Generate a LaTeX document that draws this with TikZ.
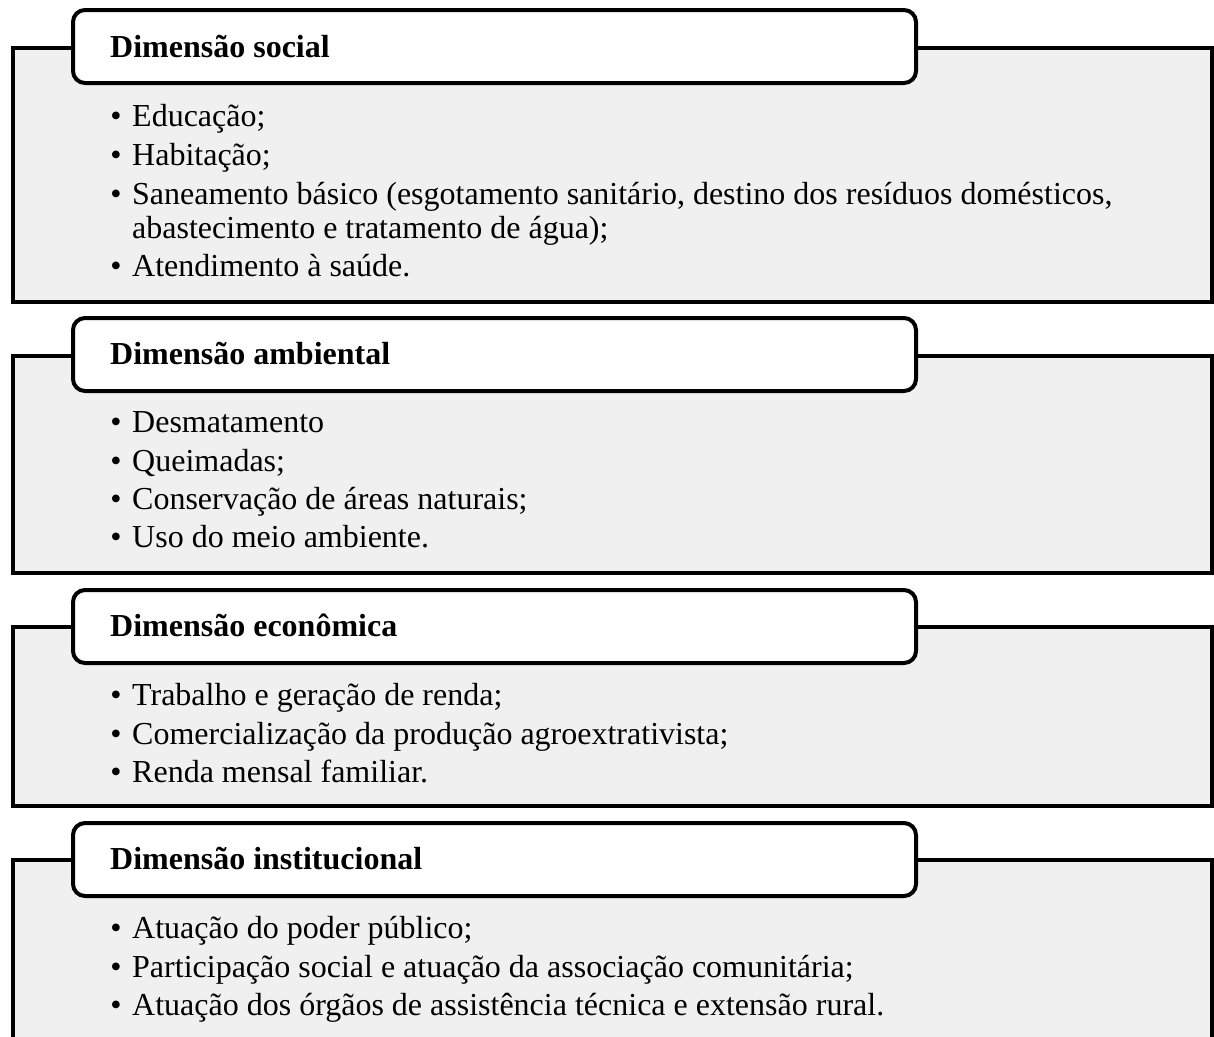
\documentclass[tikz,border=0pt]{standalone}
\usepackage{fontspec}
\setmainfont{Liberation Serif}
\definecolor{panelgray}{RGB}{240,240,240}
\begin{document}
\begin{tikzpicture}[x=1pt,y=-1pt,
  panel/.style={draw=black, line width=4pt, fill=panelgray, minimum width=1199pt, inner sep=0pt},
  header/.style={draw=black, line width=4pt, fill=white, rounded corners=12pt, minimum width=843pt, minimum height=73pt, inner sep=0pt},
  hdtext/.style={anchor=base west, inner sep=0pt, font=\fontsize{32}{38}\selectfont\bfseries},
  item/.style={anchor=base west, inner sep=0pt, font=\fontsize{32}{38}\selectfont},
  dot/.style={anchor=base, inner sep=0pt, font=\fontsize{32}{38}\selectfont}]
\clip (0,0) rectangle (1214,1036);
\fill[white] (0,0) rectangle (1214,1036);
% panels
\node[panel, minimum height=254pt] (p1) at (612.5,175) {};
\node[panel, minimum height=217pt] (p2) at (612.5,464.5) {};
\node[panel, minimum height=179pt] (p3) at (612.5,716.5) {};
\node[panel, minimum height=200pt] (p4) at (612.5,960) {};
% headers
\node[header] (h1) at (494.5,46.5) {};
\node[header] (h2) at (494.5,354.5) {};
\node[header] (h3) at (494.5,626.5) {};
\node[header] (h4) at (494.5,859.5) {};
\node[hdtext] (h1t) at (110,57) {Dimensão social};
\node[hdtext] (h2t) at (110,364) {Dimensão ambiental};
\node[hdtext] (h3t) at (110,636) {Dimensão econômica};
\node[hdtext] (h4t) at (110,869) {Dimensão institucional};
% box 1 items
\foreach \y/\n in {126/a,165/b,204/c,276/e} \node[dot] (d1\n) at (116,\y) {•};
\node[item] (t1a) at (132,126) {Educação;};
\node[item] (t1b) at (132,165) {Habitação;};
\node[item] (t1c) at (132,204) {Saneamento básico (esgotamento sanitário, destino dos resíduos domésticos,};
\node[item] (t1d) at (132,238) {abastecimento e tratamento de água);};
\node[item] (t1e) at (132,276) {Atendimento à saúde.};
% box 2 items
\foreach \y/\n in {432/a,471/b,509/c,547/d} \node[dot] (d2\n) at (116,\y) {•};
\node[item] (t2a) at (132,432) {Desmatamento};
\node[item] (t2b) at (132,471) {Queimadas;};
\node[item] (t2c) at (132,509) {Conservação de áreas naturais;};
\node[item] (t2d) at (132,547) {Uso do meio ambiente.};
% box 3 items
\foreach \y/\n in {705/a,744/b,782/c} \node[dot] (d3\n) at (116,\y) {•};
\node[item] (t3a) at (132,705) {Trabalho e geração de renda;};
\node[item] (t3b) at (132,744) {Comercialização da produção agroextrativista;};
\node[item] (t3c) at (132,782) {Renda mensal familiar.};
% box 4 items
\foreach \y/\n in {938/a,977/b,1015/c} \node[dot] (d4\n) at (116,\y) {•};
\node[item] (t4a) at (132,938) {Atuação do poder público;};
\node[item] (t4b) at (132,977) {Participação social e atuação da associação comunitária;};
\node[item] (t4c) at (132,1015) {Atuação dos órgãos de assistência técnica e extensão rural.};
\end{tikzpicture}
\end{document}
